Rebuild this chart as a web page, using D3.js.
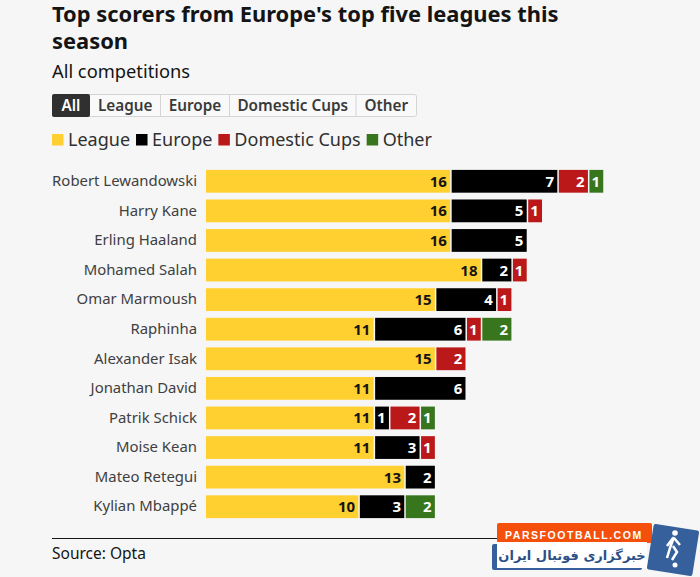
<!DOCTYPE html>
<html>
<head>
<meta charset="utf-8">
<script src="https://cdnjs.cloudflare.com/ajax/libs/d3/7.8.5/d3.min.js"></script>
<style>
  html, body { margin: 0; padding: 0; background: #f6f6f6; }
  svg { display: block; font-family: "Noto Sans", sans-serif; }
</style>
</head>
<body>
<svg id="chart" width="700" height="577"></svg>
<script>
// values
var players = ["Robert Lewandowski", "Harry Kane", "Erling Haaland", "Mohamed Salah",
    "Omar Marmoush", "Raphinha", "Alexander Isak", "Jonathan David",
    "Patrik Schick", "Moise Kean", "Mateo Retegui", "Kylian Mbappé"];
var league   = [16, 16, 16, 18, 15, 11, 15, 11, 11, 11, 13, 10];
var europe   = [7, 5, 5, 2, 4, 6, 0, 6, 1, 3, 2, 3];
var domestic = [2, 1, 0, 1, 1, 1, 2, 0, 2, 1, 0, 0];
var other    = [1, 0, 0, 0, 0, 2, 0, 0, 1, 0, 0, 2];

var seriesNames = ["League", "Europe", "Domestic Cups", "Other"];
var seriesColors = ["#ffd02f", "#000000", "#bb1919", "#38761d"];
var tabLabels = ["All", "League", "Europe", "Domestic Cups", "Other"];

var svg = d3.select("#chart");
var ink = "#141414";

// heading
svg.append("text").attr("x", 52).attr("y", 22).attr("font-size", 21.9).attr("font-weight", 700)
    .attr("fill", ink).text("Top scorers from Europe's top five leagues this");
svg.append("text").attr("x", 52).attr("y", 49).attr("font-size", 21.9).attr("font-weight", 700)
    .attr("fill", ink).text("season");
svg.append("text").attr("x", 52).attr("y", 78).attr("font-size", 18.3)
    .attr("fill", ink).text("All competitions");

// tabs
var tabEdges = [52, 90, 160.5, 229.5, 356, 416.5];
var tabs = svg.append("g");
tabs.append("rect").attr("x", 52.5).attr("y", 94.5).attr("width", 364).attr("height", 22)
    .attr("rx", 2).attr("fill", "#f9f9f9").attr("stroke", "#d4d4d4");
tabLabels.forEach(function(label, i) {
    var x0 = tabEdges[i], x1 = tabEdges[i + 1];
    if (i == 0) {
        tabs.append("rect").attr("x", x0).attr("y", 94).attr("width", x1 - x0).attr("height", 23)
            .attr("rx", 2).attr("fill", "#303030");
    } else if (i > 1) {
        tabs.append("line").attr("x1", x0).attr("x2", x0).attr("y1", 95).attr("y2", 116)
            .attr("stroke", "#d4d4d4");
    }
    tabs.append("text").attr("x", (x0 + x1) / 2).attr("y", 110.5).attr("text-anchor", "middle")
        .attr("font-size", 15.3).attr("font-weight", 600)
        .attr("fill", i == 0 ? "#ffffff" : "#3a3a3a").text(label);
});

// legend
var legendX = 52;
var legend = svg.append("g");
seriesNames.forEach(function(name, i) {
    legend.append("rect").attr("x", legendX).attr("y", 134).attr("width", 11.5).attr("height", 11.5)
        .attr("fill", seriesColors[i]);
    var t = legend.append("text").attr("x", legendX + 16).attr("y", 146).attr("font-size", 18)
        .attr("fill", "#303030").text(name);
    legendX += 16 + t.node().getComputedTextLength() + 6;
});

// bars
var rows = players.map(function(p, i) {
    return { player: p, "League": league[i], "Europe": europe[i], "Domestic Cups": domestic[i], "Other": other[i] };
});
var stacked = d3.stack().keys(seriesNames)(rows);

var x = d3.scaleLinear().domain([0, 26]).range([206, 604]);
var y = d3.scaleBand().domain(players).range([166.5, 521.5]).paddingInner(0.23).paddingOuter(0.115);

var yAxis = d3.axisLeft(y).tickSize(0).tickPadding(9);
var axisG = svg.append("g").attr("transform", "translate(206,0)").call(yAxis);
axisG.select(".domain").remove();
axisG.selectAll("text").attr("font-size", 14.9).attr("fill", "#404040")
    .attr("font-family", "'Noto Sans', sans-serif");

var groups = svg.selectAll("g.series").data(stacked).enter().append("g").attr("class", "series");

groups.selectAll("rect")
    .data(function(s) { return s.filter(function(d) { return d[1] > d[0]; }); })
    .enter().append("rect")
    .attr("x", function(d) { return x(d[0]) + (d[0] > 0 ? 0.75 : 0); })
    .attr("y", function(d) { return y(d.data.player); })
    .attr("width", function(d) { return x(d[1]) - x(d[0]) - (d[0] > 0 ? 0.75 : 0) - 0.75; })
    .attr("height", y.bandwidth())
    .attr("fill", function() { return seriesColors[seriesNames.indexOf(d3.select(this.parentNode).datum().key)]; });

groups.selectAll("text")
    .data(function(s) { return s.filter(function(d) { return d[1] > d[0]; }); })
    .enter().append("text")
    .attr("x", function(d) { return x(d[1]) - 4; })
    .attr("y", function(d) { return y(d.data.player) + y.bandwidth() / 2 + 5.5; })
    .attr("text-anchor", "end")
    .attr("font-size", 15)
    .attr("font-weight", 700)
    .attr("fill", function() { return d3.select(this.parentNode).datum().key == "League" ? "#141414" : "#ffffff"; })
    .text(function(d) { return d[1] - d[0]; });

// footer
svg.append("line").attr("x1", 52).attr("x2", 497).attr("y1", 538.5).attr("y2", 538.5)
    .attr("stroke", "#141414");
svg.append("text").attr("x", 52).attr("y", 559).attr("font-size", 15.5)
    .attr("fill", ink).text("Source: Opta");

// site watermark, bottom right
var mark = svg.append("g");
mark.append("rect").attr("x", 492).attr("y", 544).attr("width", 150).attr("height", 26).attr("rx", 2).attr("fill", "#35609c");
mark.append("rect").attr("x", 497).attr("y", 523).attr("width", 155).attr("height", 20).attr("rx", 2).attr("fill", "#f4500c");
mark.append("rect").attr("x", 497).attr("y", 542).attr("width", 150).attr("height", 26).attr("fill", "#ffffff");
mark.append("text").attr("x", 505).attr("y", 539).attr("font-size", 10.5).attr("font-weight", 700)
    .attr("letter-spacing", 1.55).attr("font-family", "'Liberation Sans', sans-serif")
    .attr("fill", "#ffffff").text("PARSFOOTBALL.COM");
mark.append("text").attr("x", 572).attr("y", 560).attr("text-anchor", "middle").attr("font-size", 13).attr("font-weight", 700)
    .attr("font-family", "'DejaVu Sans', sans-serif")
    .attr("fill", "#2c4f86").text("خبرگزاری فوتبال ایران");
mark.append("rect").attr("x", 650).attr("y", 527).attr("width", 46).attr("height", 46).attr("rx", 2)
    .attr("transform", "rotate(9 673 550)").attr("fill", "#35609c");
// little white player on the badge
mark.append("circle").attr("cx", 675).attr("cy", 533).attr("r", 2.8).attr("fill", "#ffffff");
mark.append("path").attr("d", "M674 537 L670 548 L667 558 M673 546 L677 552 L672 560 M674 538 L680 545 M673 538 L667 546")
    .attr("fill", "none").attr("stroke", "#ffffff").attr("stroke-width", 2.5);
mark.append("circle").attr("cx", 675).attr("cy", 565).attr("r", 2.5).attr("fill", "#ffffff");
</script>
</body>
</html>
